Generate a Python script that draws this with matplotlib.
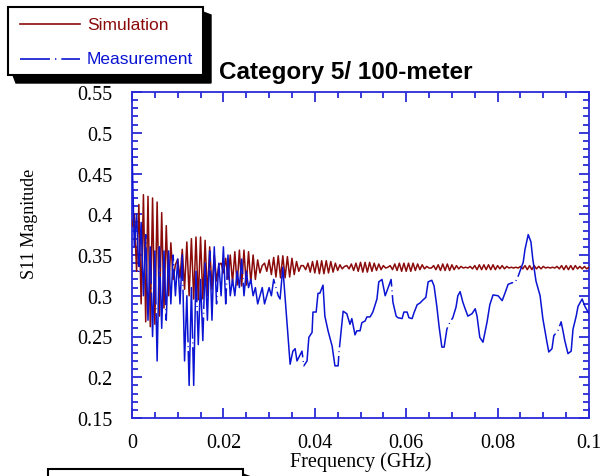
import numpy as np
import matplotlib
matplotlib.use("Agg")
import matplotlib.pyplot as plt
from matplotlib.patches import Rectangle, Polygon
from matplotlib.lines import Line2D

# ---------------- data ----------------
title = "Category 5/ 100-meter"
x_label = "Frequency (GHz)"
y_label = "S11 Magnitude"
legend_labels = ["Simulation", "Measurement"]
x_ticks = [0, 0.02, 0.04, 0.06, 0.08, 0.1]
x_tick_labels = ["0", "0.02", "0.04", "0.06", "0.08", "0.1"]
y_ticks = [0.15, 0.2, 0.25, 0.3, 0.35, 0.4, 0.45, 0.5, 0.55]
y_tick_labels = ["0.15", "0.2", "0.25", "0.3", "0.35", "0.4", "0.45", "0.5", "0.55"]

# Simulation: samples every 0.0005 GHz from 0 to 0.1 GHz
sim_freq_step = 0.0005
sim_s11 = [0.385, 0.400, 0.330, 0.412, 0.290, 0.424, 0.268, 0.422, 0.262, 0.420,
           0.265, 0.415, 0.275, 0.402, 0.285, 0.386, 0.300, 0.365, 0.320, 0.338,
           0.345, 0.322, 0.357, 0.308, 0.366, 0.300, 0.370, 0.296, 0.372, 0.295,
           0.372, 0.296, 0.368, 0.300, 0.360, 0.308, 0.350, 0.318, 0.338, 0.340,
           0.328, 0.346, 0.320, 0.350, 0.316, 0.354, 0.313, 0.356, 0.312, 0.356,
           0.313, 0.354, 0.316, 0.350, 0.320, 0.344, 0.328, 0.337, 0.340, 0.330,
           0.344, 0.326, 0.347, 0.323, 0.349, 0.322, 0.349, 0.322, 0.348, 0.323,
           0.346, 0.326, 0.342, 0.330, 0.337, 0.337, 0.332, 0.340, 0.329, 0.342,
           0.328, 0.343, 0.327, 0.343, 0.327, 0.343, 0.328, 0.342, 0.329, 0.340,
           0.331, 0.338, 0.333, 0.336, 0.337, 0.333, 0.339, 0.331, 0.340, 0.330,
           0.341, 0.329, 0.341, 0.329, 0.341, 0.330, 0.340, 0.331, 0.339, 0.332,
           0.337, 0.334, 0.335, 0.337, 0.332, 0.339, 0.331, 0.340, 0.330, 0.340,
           0.330, 0.340, 0.330, 0.340, 0.331, 0.339, 0.332, 0.338, 0.333, 0.336,
           0.334, 0.334, 0.337, 0.332, 0.338, 0.331, 0.339, 0.331, 0.339, 0.331,
           0.338, 0.332, 0.337, 0.333, 0.336, 0.334, 0.335, 0.334, 0.336, 0.333,
           0.337, 0.332, 0.338, 0.332, 0.338, 0.332, 0.338, 0.332, 0.338, 0.332,
           0.337, 0.333, 0.337, 0.333, 0.336, 0.334, 0.335, 0.334, 0.335, 0.334,
           0.336, 0.333, 0.337, 0.332, 0.337, 0.332, 0.337, 0.333, 0.336, 0.333,
           0.336, 0.334, 0.335, 0.334, 0.335, 0.334, 0.336, 0.333, 0.337, 0.332,
           0.337, 0.332, 0.337, 0.332, 0.337, 0.333, 0.336, 0.333, 0.336, 0.333,
           0.335]

# Measurement, dense part: samples every 0.0005 GHz from 0 to 0.032 GHz
meas_dense_step = 0.0005
meas_dense_s11 = [0.480, 0.360, 0.400, 0.330, 0.390, 0.300, 0.375, 0.270, 0.360, 0.250,
                  0.355, 0.220, 0.360, 0.260, 0.355, 0.270, 0.355, 0.290, 0.350, 0.300,
                  0.345, 0.290, 0.350, 0.220, 0.300, 0.190, 0.310, 0.190, 0.330, 0.240,
                  0.320, 0.245, 0.340, 0.270, 0.355, 0.270, 0.360, 0.290, 0.340, 0.300,
                  0.360, 0.290, 0.350, 0.300, 0.320, 0.300, 0.330, 0.310, 0.345, 0.300,
                  0.330, 0.310, 0.320, 0.300, 0.310, 0.290, 0.300, 0.310, 0.290, 0.300,
                  0.310, 0.300, 0.320, 0.310, 0.300]
# Measurement, smoother part above 0.032 GHz
meas_tail_freq = [0.0324, 0.0330, 0.0346, 0.0352, 0.0357, 0.0361, 0.0372, 0.0376, 0.0383, 0.0387,
                  0.0394, 0.0396, 0.0403, 0.0407, 0.0411, 0.0418, 0.0422, 0.0429, 0.0438, 0.0444,
                  0.0451, 0.0453, 0.0462, 0.0470, 0.0477, 0.0481, 0.0488, 0.0492, 0.0499, 0.0503,
                  0.0510, 0.0514, 0.0521, 0.0525, 0.0527, 0.0536, 0.0540, 0.0547, 0.0554, 0.0558,
                  0.0567, 0.0571, 0.0578, 0.0582, 0.0591, 0.0595, 0.0602, 0.0606, 0.0613, 0.0617,
                  0.0624, 0.0630, 0.0637, 0.0643, 0.0648, 0.0656, 0.0661, 0.0667, 0.0672, 0.0678,
                  0.0683, 0.0689, 0.0696, 0.0702, 0.0709, 0.0713, 0.0718, 0.0724, 0.0729, 0.0735,
                  0.0744, 0.0751, 0.0755, 0.0761, 0.0768, 0.0777, 0.0783, 0.0790, 0.0801, 0.0810,
                  0.0816, 0.0823, 0.0832, 0.0838, 0.0845, 0.0856, 0.0860, 0.0867, 0.0873, 0.0877,
                  0.0884, 0.0893, 0.0899, 0.0908, 0.0912, 0.0919, 0.0923, 0.0932, 0.0939, 0.0943,
                  0.0947, 0.0954, 0.0961, 0.0965, 0.0972, 0.0976, 0.0985, 0.0991, 0.1000]
meas_tail_s11 = [0.296, 0.335, 0.216, 0.232, 0.235, 0.220, 0.232, 0.214, 0.220, 0.249,
                 0.255, 0.280, 0.280, 0.303, 0.303, 0.313, 0.275, 0.257, 0.238, 0.214,
                 0.214, 0.231, 0.281, 0.278, 0.265, 0.272, 0.252, 0.257, 0.257, 0.267,
                 0.269, 0.274, 0.274, 0.278, 0.280, 0.296, 0.317, 0.320, 0.300, 0.306,
                 0.320, 0.292, 0.275, 0.273, 0.272, 0.280, 0.280, 0.273, 0.272, 0.279,
                 0.289, 0.291, 0.295, 0.298, 0.317, 0.319, 0.312, 0.287, 0.262, 0.237,
                 0.237, 0.259, 0.268, 0.273, 0.286, 0.300, 0.305, 0.292, 0.284, 0.275,
                 0.278, 0.284, 0.275, 0.249, 0.243, 0.268, 0.289, 0.301, 0.300, 0.294,
                 0.303, 0.314, 0.316, 0.316, 0.324, 0.341, 0.357, 0.375, 0.366, 0.345,
                 0.318, 0.300, 0.272, 0.243, 0.231, 0.235, 0.251, 0.257, 0.268, 0.257,
                 0.245, 0.229, 0.232, 0.259, 0.275, 0.287, 0.296, 0.287, 0.278]

# ---------------- style ----------------
W, H = 602, 477
red = "#8b0a0a"
blue = "#0a14d2"
axblue = "#2a2ad8"
serif = ["Liberation Serif", "DejaVu Serif"]
sans = ["Liberation Sans", "DejaVu Sans"]

fig = plt.figure(figsize=(W / 100, H / 100), dpi=100)

def fx(px):
    return px / W

def fy(py):
    return 1 - py / H

ax = fig.add_axes([fx(132), fy(419), (589 - 132) / W, (419 - 93) / H])

sim_freq = sim_freq_step * np.arange(len(sim_s11))
meas_freq = np.concatenate([meas_dense_step * np.arange(len(meas_dense_s11)), meas_tail_freq])
meas_s11 = np.concatenate([meas_dense_s11, meas_tail_s11])

ax.plot(sim_freq, sim_s11, color=red, lw=1.1, zorder=3)
ax.plot(meas_freq, meas_s11, color=blue, lw=1.1, zorder=4,
        linestyle=(0, (120, 2.5, 0.6, 2.5)))

ax.set_xlim(0, 0.1)
ax.set_ylim(0.15, 0.55)
ax.set_xticks(x_ticks)
ax.set_xticklabels(x_tick_labels)
ax.set_yticks(y_ticks)
ax.set_yticklabels(y_tick_labels)
ax.set_xticks(np.arange(0, 0.1001, 0.005), minor=True)
ax.set_yticks(np.arange(0.15, 0.5501, 0.01), minor=True)
ax.tick_params(which="both", direction="in", top=True, right=True, color=axblue,
               width=1.3)
ax.tick_params(which="major", length=7.5)
ax.tick_params(which="minor", length=4)
ax.tick_params(axis="y", which="major", pad=14, labelsize=14.5)
ax.tick_params(axis="x", which="major", pad=11, labelsize=14.5)
for lab in ax.get_xticklabels() + ax.get_yticklabels():
    lab.set_family(serif)
for s in ax.spines.values():
    s.set_color(axblue)
    s.set_linewidth(1.3)

ax.set_xlabel(x_label, family=serif, fontsize=14.5, va="center")
ax.xaxis.set_label_coords(0.5, -(462 - 419) / 326)
fig.text(fx(29), fy(224), y_label, family=serif, fontsize=13, rotation=90,
         ha="center", va="center")
fig.text(fx(219), fy(72), title, family=sans, fontsize=17.5, weight="bold",
         ha="left", va="center")

# legend box with shadow
def box(x0, y0, x1, y1, sh=8):
    shadow = Polygon([[fx(x0 + 5), fy(y1)], [fx(x1), fy(y1)], [fx(x1), fy(y0 + 5)],
                      [fx(x1 + sh), fy(y0 + sh)], [fx(x1 + sh), fy(y1 + sh)],
                      [fx(x0 + sh), fy(y1 + sh)]], closed=True,
                     transform=fig.transFigure, facecolor="black", edgecolor="black",
                     zorder=5)
    fig.patches.append(shadow)
    r = Rectangle((fx(x0), fy(y1)), fx(x1) - fx(x0), fy(y0) - fy(y1),
                  transform=fig.transFigure, facecolor="white", edgecolor="black",
                  lw=1.5, zorder=6)
    fig.patches.append(r)

box(8, 8, 203, 76)
fig.add_artist(Line2D([fx(20), fx(80)], [fy(25), fy(25)], color=red, lw=1.2, zorder=7))
fig.add_artist(Line2D([fx(20), fx(80)], [fy(60), fy(60)], color=blue, lw=1.2, zorder=7,
                      linestyle=(0, (18, 3, 0.8, 3))))
fig.text(fx(87), fy(25), legend_labels[0], color=red, family=sans, fontsize=12.5,
         ha="left", va="center", zorder=8)
fig.text(fx(87), fy(60), legend_labels[1], color=blue, family=sans, fontsize=12.5,
         ha="left", va="center", zorder=8)

# bottom partial box
box(48, 470, 243, 492)

fig.savefig("out.png", dpi=100)
